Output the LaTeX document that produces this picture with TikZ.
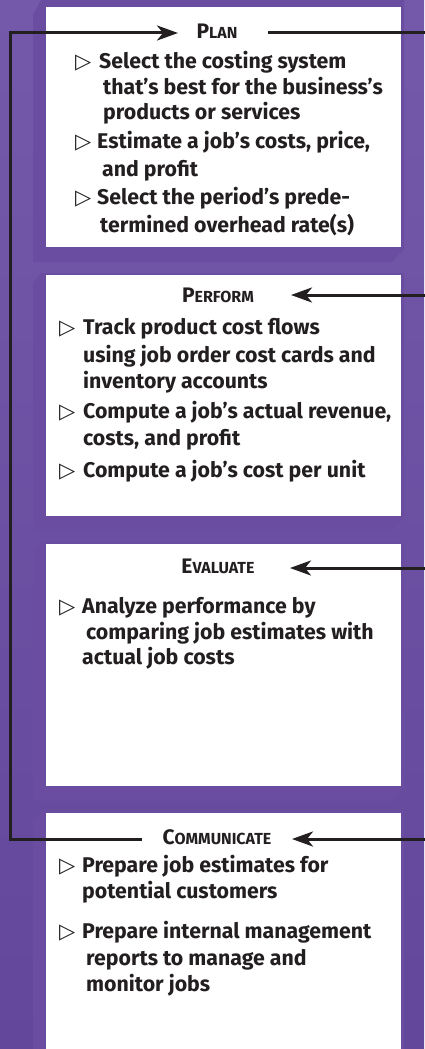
\documentclass[tikz,border=0pt]{standalone}
\usepackage{fontspec}
\setmainfont{Fira Sans}
\newfontfamily\symfont{DejaVu Sans}
\usetikzlibrary{arrows.meta}
\definecolor{bgtop}{HTML}{7458A9}
\definecolor{bgmid}{HTML}{7E64B3}
\definecolor{bgbot}{HTML}{63479B}
\definecolor{framec}{HTML}{6A4CA1}
\definecolor{ink}{HTML}{231F20}
\newcommand\SmC[2]{{\fontsize{21}{21}\selectfont #1}{\fontsize{16}{16}\selectfont #2}}
\newcommand\FrameBox[3]{%
  \fill[framec] (33,#1+8) -- (41,#3) -- (404,#3) -- (404,#2+2) -- (392,#2+15) -- (33,#2+15) -- cycle;
  \fill[white] (46,#1) rectangle (401,#2);}
\tikzset{
  body/.style={anchor=base west, inner sep=0pt, text=ink, font=\fontsize{21.3}{24}\selectfont\bfseries},
  bul/.style={anchor=base west, inner sep=0pt, text=ink, font=\symfont\fontsize{21}{24}\selectfont},
  ttl/.style={anchor=base, inner sep=0pt, text=ink, font=\bfseries},
  conn/.style={draw=ink, line width=3pt, line join=miter},
  arr/.style={conn, -{Stealth[length=21pt,width=15pt,inset=6pt]}}
}
\begin{document}
\begin{tikzpicture}[x=1pt,y=-1pt]
\useasboundingbox (0,0) rectangle (424,1049);
\shade[top color=bgtop, middle color=bgmid, bottom color=bgbot] (0,0) rectangle (424,1049);
% frames and boxes
\FrameBox{7}{247}{0}
\FrameBox{275}{516}{273}
\FrameBox{544}{786}{542}
\FrameBox{813}{1049}{811}
% titles
\node[ttl] (plan) at (217,39) {\SmC{P}{LAN}};
\node[ttl] (perform) at (218,302) {\SmC{P}{ERFORM}};
\node[ttl] (evaluate) at (218,573) {\SmC{E}{VALUATE}};
\node[ttl] (communicate) at (217,844) {\SmC{C}{OMMUNICATE}};
% Plan
\node[bul] (pb1) at (75,68) {▷};
\node[body] (p1a) at (99,68) {Select the costing system};
\node[body] (p1b) at (103,94) {that’s best for the business’s};
\node[body] (p1c) at (103,119) {products or services};
\node[bul] (pb2) at (75,148) {▷};
\node[body] (p2a) at (97,148) {Estimate a job’s costs, price,};
\node[body] (p2b) at (102,176) {and profit};
\node[bul] (pb3) at (75,204) {▷};
\node[body] (p3a) at (97,204) {Select the period’s prede-};
\node[body] (p3b) at (100,232) {termined overhead rate(s)};
% Perform
\node[bul] (fb1) at (59,334) {▷};
\node[body] (f1a) at (83,334) {Track product cost flows};
\node[body] (f1b) at (83,362) {using job order cost cards and};
\node[body] (f1c) at (83,388) {inventory accounts};
\node[bul] (fb2) at (59,418) {▷};
\node[body] (f2a) at (83,418) {Compute a job’s actual revenue,};
\node[body] (f2b) at (83,445) {costs, and profit};
\node[bul] (fb3) at (59,477) {▷};
\node[body] (f3a) at (83,477) {Compute a job’s cost per unit};
% Evaluate
\node[bul] (eb1) at (59,613) {▷};
\node[body] (e1a) at (82,613) {Analyze performance by};
\node[body] (e1b) at (86,639) {comparing job estimates with};
\node[body] (e1c) at (82,664) {actual job costs};
% Communicate
\node[bul] (cb1) at (59,872) {▷};
\node[body] (c1a) at (82,872) {Prepare job estimates for};
\node[body] (c1b) at (82,898) {potential customers};
\node[bul] (cb2) at (59,938) {▷};
\node[body] (c2a) at (82,938) {Prepare internal management};
\node[body] (c2b) at (86,965) {reports to manage and};
\node[body] (c2c) at (86,991) {monitor jobs};
% connector points
\coordinate (plaIn) at (178,33);
\coordinate (plaOut) at (268,33);
\coordinate (perIn) at (291,295);
\coordinate (evaIn) at (290,568);
\coordinate (comIn) at (292,839);
\coordinate (comOut) at (142,839);
\coordinate (leftBot) at (10,839);
\coordinate (leftTop) at (10,33);
\coordinate (rTop) at (425,33);
\coordinate (rPer) at (425,295);
\coordinate (rEva) at (425,568);
\coordinate (rCom) at (425,839);
% connectors
\draw[arr] (comOut) -- (leftBot) -- (leftTop) -- (plaIn);
\draw[conn] (plaOut) -- (rTop);
\draw[arr] (rPer) -- (perIn);
\draw[arr] (rEva) -- (evaIn);
\draw[arr] (rCom) -- (comIn);
\end{tikzpicture}
\end{document}
